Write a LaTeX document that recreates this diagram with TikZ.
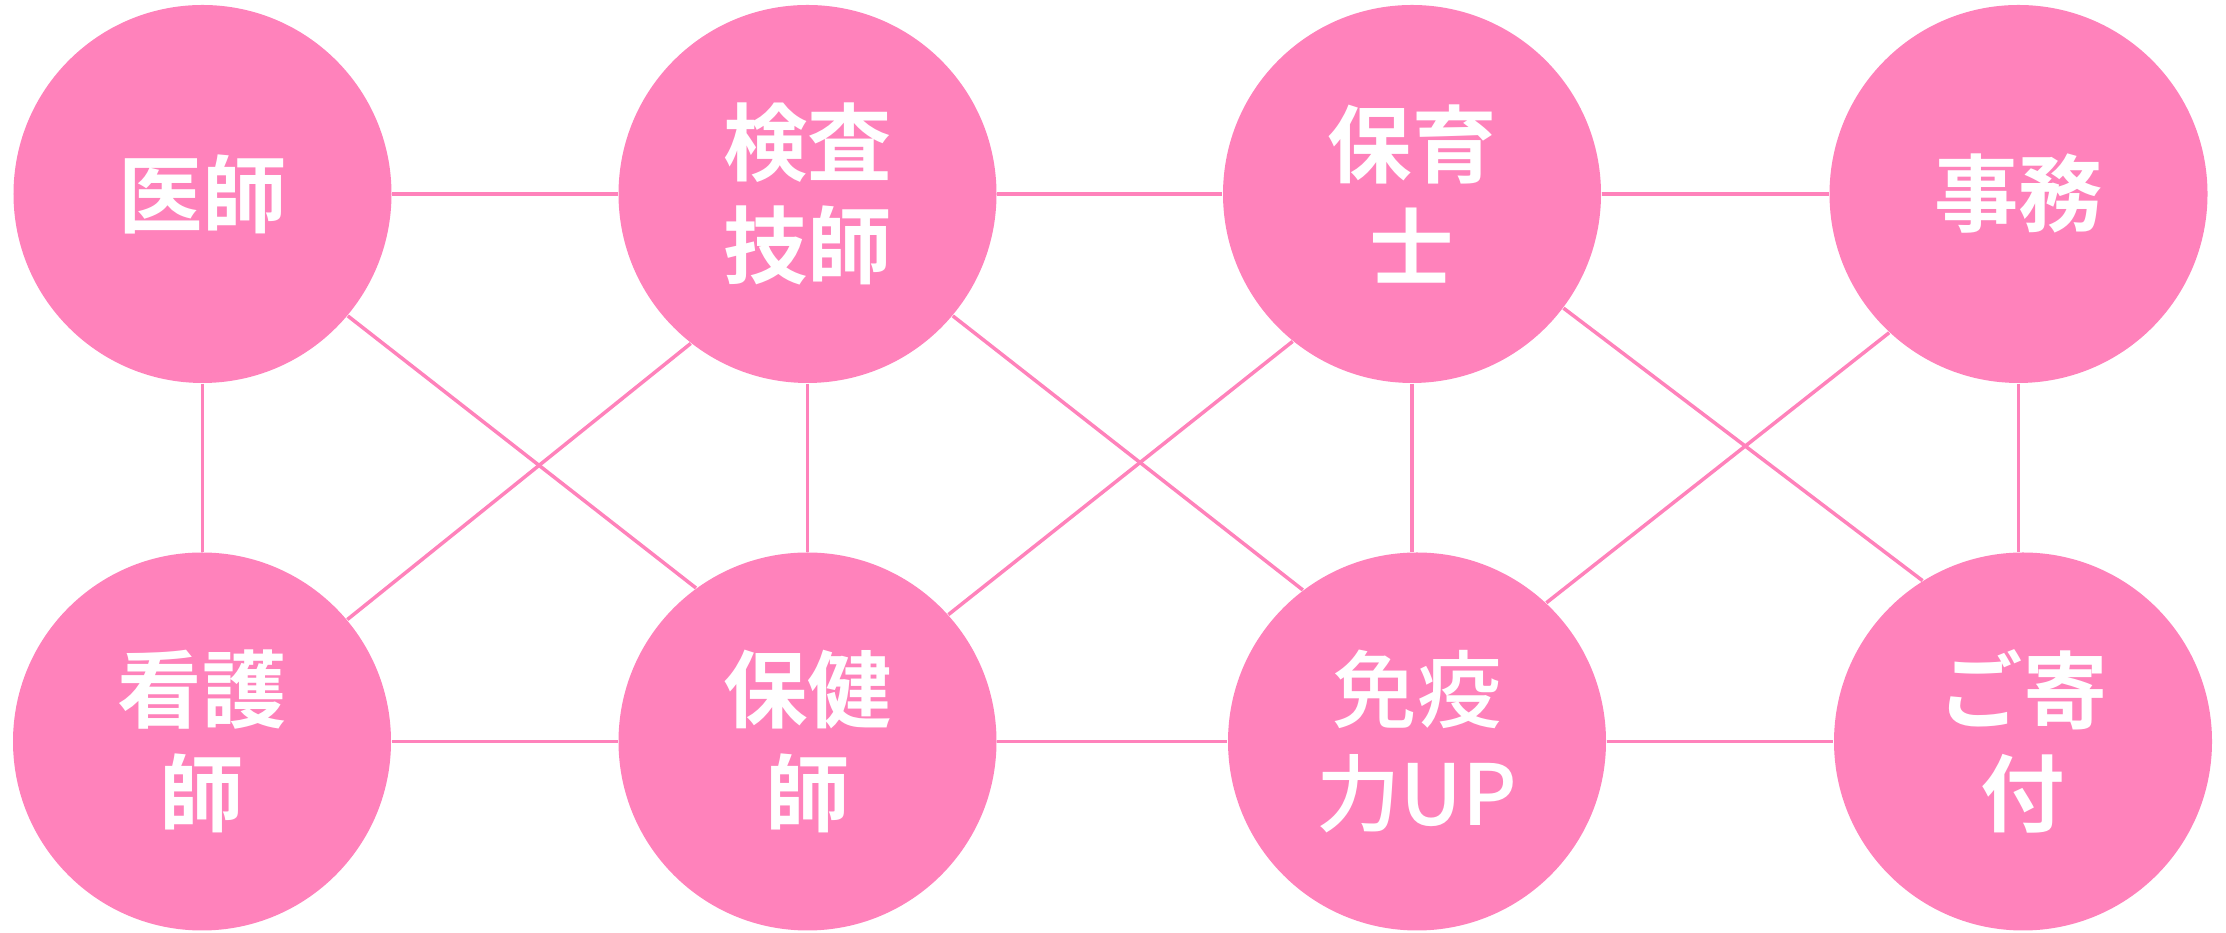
\documentclass[tikz,border=0pt]{standalone}
\usepackage{fontspec}
\newfontfamily\jpfont{Noto Sans CJK JP}[BoldFont={Noto Sans CJK JP Bold}]
\newfontfamily\jpmed{Noto Sans CJK JP Medium}
\definecolor{momo}{RGB}{255,130,187}
\tikzset{
    maru/.style={circle,fill=momo,text=white,minimum size=3.78cm,inner sep=0pt,align=center,
        font=\jpfont\bfseries\fontsize{24pt}{29.5pt}\selectfont},
    sen/.style={draw=momo,line width=0.035cm}
}
\begin{document}
\begin{tikzpicture}
        \useasboundingbox (0,0) rectangle (22.26,9.33);
        % top row
        \node[maru] (ishi) at (2.025,7.39){医師};
        \node[maru] (kensa) at (8.075,7.39){検査\\技師};
        \node[maru] (hoiku) at (14.12,7.39){保育\\士};
        \node[maru] (jimu) at (20.185,7.39){事務};
        % bottom row
        \node[maru] (kango) at (2.02,1.915){看護\\師};
        \node[maru] (hoken) at (8.075,1.915){保健\\師};
        \node[maru,font=\jpmed\fontsize{24pt}{29.5pt}\selectfont] (meneki) at (14.17,1.915){免疫\\力UP};
        \node[maru] (kifu) at (20.23,1.915){ご寄\\付};
        \foreach \a/\b in {ishi/kensa,kensa/hoiku,hoiku/jimu,kango/hoken,hoken/meneki,meneki/kifu}
        {
            \draw[sen] (\a.east)--(\b.west);
        }
        \foreach \a/\b in {ishi/kango,kensa/hoken,hoiku/meneki,jimu/kifu}
        {
            \draw[sen] (\a.south)--(\a.south|-\b.north);
        }
        \draw[sen] (ishi.-40)--(hoken.126);
        \draw[sen] (kango.40)--(kensa.232);
        \draw[sen] (kensa.-40)--(meneki.127);
        \draw[sen] (hoken.42)--(hoiku.231);
        \draw[sen] (hoiku.-37)--(kifu.122);
        \draw[sen] (meneki.47)--(jimu.227);
    \end{tikzpicture}
\end{document}
